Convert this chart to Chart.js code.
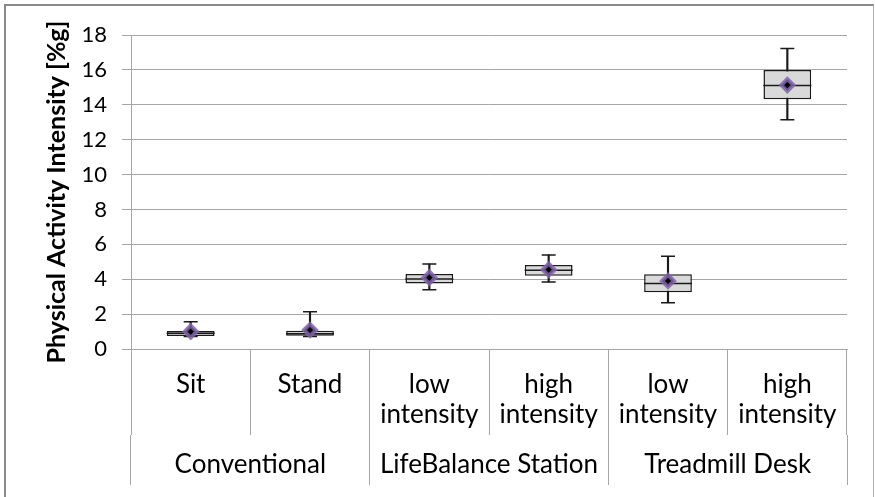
<!DOCTYPE html>
<html>
<head>
<meta charset="utf-8">
<script src="https://cdn.jsdelivr.net/npm/chart.js@4/dist/chart.umd.min.js"></script>
<style>
  body { margin: 0; background: #fff; }
  #wrap { position: relative; width: 875px; height: 497px; overflow: hidden; }
  #frame { position: absolute; left: 4px; top: 4px; width: 867px; height: 520px;
           border: 2px solid #8a8a8a; border-right: 1px solid #b0b0b0; }
  canvas { position: absolute; left: 0; top: 0; }
</style>
</head>
<body>
<div id="wrap">
  <canvas id="chart" width="875" height="497"></canvas>
  <div id="frame"></div>
</div>
<script>
// categories and groups
const categories = ['Sit', 'Stand', ['low', 'intensity'], ['high', 'intensity'], ['low', 'intensity'], ['high', 'intensity']];
const groups = ['Conventional', 'LifeBalance Station', 'Treadmill Desk'];

// box plot values per category
const minVals    = [0.72, 0.72, 3.40, 3.84, 2.65, 13.14];
const q1Vals     = [0.75, 0.76, 3.76, 4.20, 3.25, 14.31];
const medianVals = [0.90, 0.88, 4.01, 4.51, 3.76, 15.11];
const q3Vals     = [1.03, 1.05, 4.30, 4.81, 4.28, 15.99];
const maxVals    = [1.56, 2.14, 4.87, 5.39, 5.31, 17.23];
const meanVals   = [1.00, 1.09, 4.09, 4.55, 3.90, 15.13];

const yTicks = [0, 2, 4, 6, 8, 10, 12, 14, 16, 18];

const gridColor = '#a6a6a6';
const labelFont = { family: 'Lato', size: 26, lineHeight: 30 / 26 };

const whiskers = minVals.map((v, i) => [v, maxVals[i]]);
const boxes = q1Vals.map((v, i) => [v, q3Vals[i]]);

new Chart(document.getElementById('chart').getContext('2d'), {
  type: 'bar',
  data: {
    labels: categories,
    datasets: [
      {
        type: 'line', label: 'Mean', data: meanVals, showLine: false,
        pointStyle: 'rectRot', pointRadius: 6, pointBorderWidth: 4,
        pointBackgroundColor: '#000', pointBorderColor: 'rgba(128,100,170,0.85)',
        order: 0
      },
      {
        type: 'line', label: 'Median', data: medianVals, showLine: false,
        pointStyle: 'line', pointRadius: 24, pointBorderWidth: 1.5,
        pointBorderColor: '#1a1a1a', order: 1
      },
      {
        type: 'line', label: 'Max', data: maxVals, showLine: false,
        pointStyle: 'line', pointRadius: 7, pointBorderWidth: 1.5,
        pointBorderColor: '#1a1a1a', order: 2
      },
      {
        type: 'line', label: 'Min', data: minVals, showLine: false,
        pointStyle: 'line', pointRadius: 7, pointBorderWidth: 1.5,
        pointBorderColor: '#1a1a1a', order: 2
      },
      {
        label: 'Box', data: boxes, grouped: false,
        backgroundColor: '#d9d9d9', borderColor: '#1a1a1a', borderWidth: 1.5,
        borderSkipped: false, barPercentage: 0.4, categoryPercentage: 1,
        order: 3
      },
      {
        label: 'Whisker', data: whiskers, grouped: false,
        backgroundColor: '#1a1a1a', barThickness: 1.5,
        order: 4
      }
    ]
  },
  options: {
    responsive: false,
    animation: false,
    events: [],
    layout: { padding: { left: 0, top: 35, right: 28, bottom: 0 } },
    plugins: { legend: { display: false }, tooltip: { enabled: false } },
    scales: {
      y: {
        min: 0, max: 18,
        afterFit: (s) => { s.width = 131; },
        afterBuildTicks: (s) => { s.ticks = yTicks.map(v => ({ value: v })); },
        ticks: { color: '#000', font: { family: 'Lato', size: 22 }, padding: 15 },
        grid: { color: gridColor, tickLength: 9 },
        border: { color: gridColor },
        title: {
          display: true, text: 'Physical Activity Intensity [%g]', color: '#000',
          font: { family: 'Lato', size: 25, weight: 'bold', lineHeight: 1.2 },
          padding: { top: 42, bottom: 0 }
        }
      },
      x: {
        weight: 0,
        afterFit: (s) => { s.height = 86; },
        ticks: { color: '#000', font: labelFont, padding: -65, maxRotation: 0, autoSkip: false },
        grid: { color: gridColor, offset: true, drawOnChartArea: false, tickLength: 86 },
        border: { color: gridColor }
      },
      x2: {
        type: 'category', position: 'bottom', weight: 1,
        labels: groups, offset: true,
        afterFit: (s) => { s.height = 62; },
        ticks: { color: '#000', font: labelFont, padding: -35, maxRotation: 0, autoSkip: false },
        grid: { color: gridColor, offset: true, drawOnChartArea: false, tickLength: 50 },
        border: { display: false }
      }
    }
  }
});
</script>
</body>
</html>
